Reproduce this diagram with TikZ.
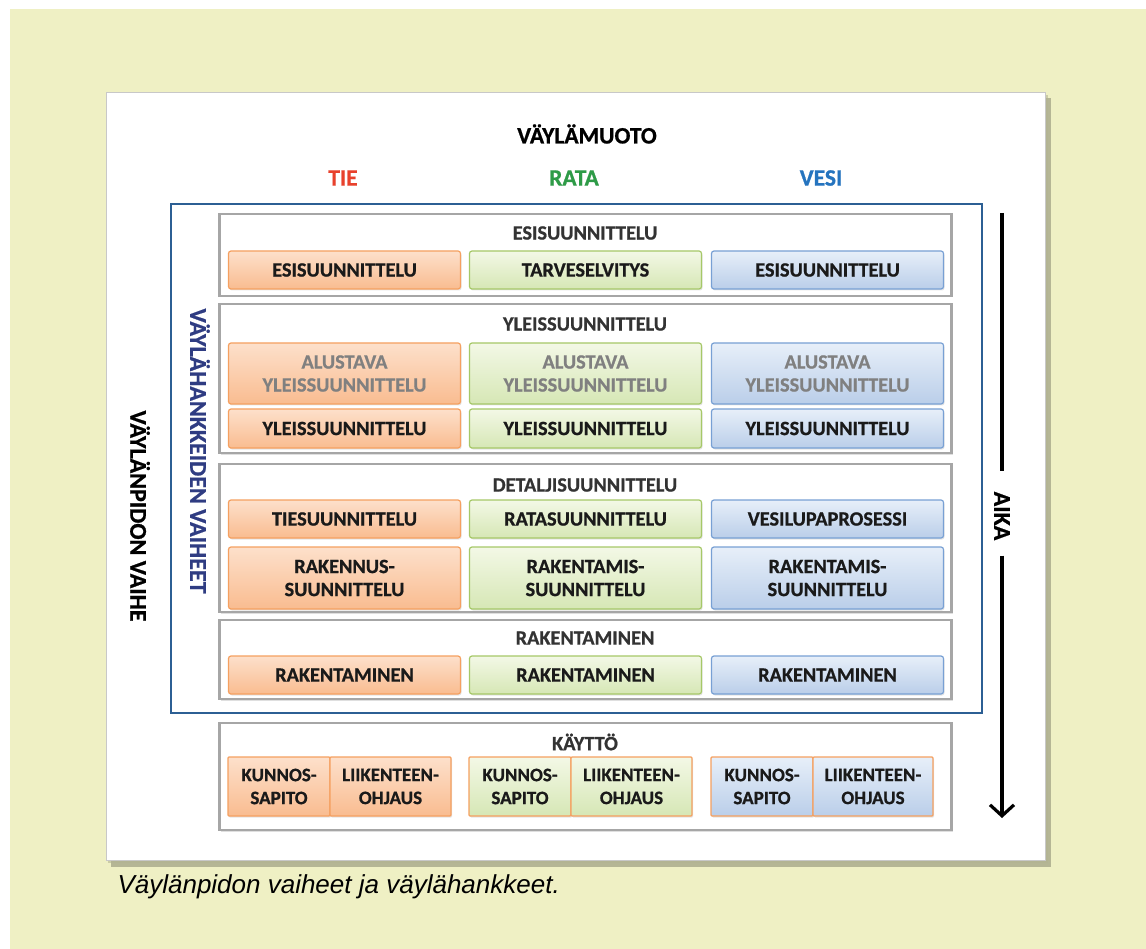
\documentclass[tikz,border=0pt]{standalone}
\usepackage{fontspec}
\setmainfont{Carlito}[BoldFeatures={FakeBold=0.8}]
\newfontfamily\capfont{Liberation Sans}
\usepackage{xcolor}
\definecolor{bgbeige}{RGB}{239, 240, 196}
\definecolor{panelline}{RGB}{200, 200, 200}
\definecolor{tiered}{RGB}{232, 65, 44}
\definecolor{ratagreen}{RGB}{46, 155, 71}
\definecolor{vesiblue}{RGB}{37, 116, 191}
\definecolor{frameblue}{RGB}{44, 95, 148}
\definecolor{navytext}{RGB}{47, 60, 130}
\definecolor{tietop}{RGB}{253, 224, 203}
\definecolor{tiebot}{RGB}{249, 188, 144}
\definecolor{tieline}{RGB}{245, 160, 96}
\definecolor{ratatop}{RGB}{243, 248, 230}
\definecolor{ratabot}{RGB}{214, 231, 181}
\definecolor{rataline}{RGB}{166, 200, 104}
\definecolor{vesitop}{RGB}{231, 239, 249}
\definecolor{vesibot}{RGB}{186, 206, 233}
\definecolor{vesiline}{RGB}{120, 160, 212}
\definecolor{sectgray}{RGB}{166, 166, 166}
\definecolor{boxtext}{RGB}{26, 26, 26}
\usetikzlibrary{
  arrows.meta,
  positioning,
  shadows,
  calc
}
\tikzset{
  phasebox/.style={draw, line width=1.2pt, rounded corners=2.5pt, align=center,
    inner sep=0pt, outer sep=0pt, text=boxtext, minimum width=232pt,
    font=\fontsize{20.3}{23}\selectfont\bfseries,
    drop shadow={shadow xshift=1pt, shadow yshift=-1.5pt, opacity=0.2}},
  tiebox/.style={phasebox, draw=tieline, top color=tietop, bottom color=tiebot},
  ratabox/.style={phasebox, draw=rataline, top color=ratatop, bottom color=ratabot},
  vesibox/.style={phasebox, draw=vesiline, top color=vesitop, bottom color=vesibot},
  prelim/.style={text=black!50},
  usebox/.style={phasebox, draw=tieline, rounded corners=1pt, minimum height=59pt,
    font=\fontsize{19}{23}\selectfont\bfseries},
  sectbox/.style={draw=sectgray, line width=2.5pt, fill=white, minimum width=732pt,
    drop shadow={shadow xshift=1.5pt, shadow yshift=-1.5pt, opacity=0.25}},
  secttitle/.style={font=\fontsize{20.3}{22}\selectfont\bfseries, text=black!80},
  headtitle/.style={font=\fontsize{23.5}{26}\selectfont\bfseries},
  sidetitle/.style={font=\fontsize{24}{26}\selectfont\bfseries, rotate=-90}
}

\begin{document}
\begin{tikzpicture}[x=1pt, y=-1pt]
  \useasboundingbox (0, 0) rectangle (1146, 949);
  \fill[white] (0, 0) rectangle (1146, 949);
  \fill[bgbeige] (10, 9) rectangle (1146, 949);

  % white panel with shadow
  \fill[black!40!bgbeige, opacity=0.6] (111, 98) rectangle (1051, 867);
  \fill[black!25!bgbeige, opacity=0.6] (108, 95) rectangle (1048, 863);
  \draw[panelline, fill=white] (106, 92) rectangle (1045, 860);

  % headings
  \node[headtitle] (mode) at (587, 134) {VÄYLÄMUOTO};
  \node[headtitle, text=tiered] (tie) at (343, 178) {TIE};
  \node[headtitle, text=ratagreen] (rata) at (574, 178) {RATA};
  \node[headtitle, text=vesiblue] (vesi) at (821, 178) {VESI};

  % project phases frame
  \draw[frameblue, line width=2.3pt] (171, 204) rectangle (982, 713);
  \node[sidetitle, text=navytext] (hanke) at (200, 451) {VÄYLÄHANKKEIDEN VAIHEET};
  \node[sidetitle] (pito) at (140, 516) {VÄYLÄNPIDON VAIHE};

  % section boxes
  \node[sectbox, minimum height=82pt] (s1) at (585.5, 255) {};
  \node[sectbox, minimum height=149pt] (s2) at (585.5, 378.5) {};
  \node[sectbox, minimum height=148pt] (s3) at (585.5, 538) {};
  \node[sectbox, minimum height=79pt] (s4) at (585.5, 659.5) {};
  \node[sectbox, minimum height=107pt] (s5) at (585.5, 776.5) {};

  \node[secttitle] (t1) at (585, 233) {ESISUUNNITTELU};
  \node[secttitle] (t2) at (585, 324) {YLEISSUUNNITTELU};
  \node[secttitle] (t3) at (585, 485) {DETALJISUUNNITTELU};
  \node[secttitle] (t4) at (585, 638) {RAKENTAMINEN};
  \node[secttitle] (t5) at (585, 742) {KÄYTTÖ};

  % esisuunnittelu
  \node[tiebox, minimum height=38pt] (tie1) at (344.5, 270) {ESISUUNNITTELU};
  \node[ratabox, minimum height=38pt] (rata1) at (585.5, 270) {TARVESELVITYS};
  \node[vesibox, minimum height=38pt] (vesi1) at (827.5, 270) {ESISUUNNITTELU};

  % yleissuunnittelu
  \node[tiebox, prelim, minimum height=61pt] (tie2) at (344.5, 373.5) {ALUSTAVA\\YLEISSUUNNITTELU};
  \node[ratabox, prelim, minimum height=61pt] (rata2) at (585.5, 373.5) {ALUSTAVA\\YLEISSUUNNITTELU};
  \node[vesibox, prelim, minimum height=61pt] (vesi2) at (827.5, 373.5) {ALUSTAVA\\YLEISSUUNNITTELU};
  \node[tiebox, minimum height=39pt] (tie3) at (344.5, 428.5) {YLEISSUUNNITTELU};
  \node[ratabox, minimum height=39pt] (rata3) at (585.5, 428.5) {YLEISSUUNNITTELU};
  \node[vesibox, minimum height=39pt] (vesi3) at (827.5, 428.5) {YLEISSUUNNITTELU};

  % detaljisuunnittelu
  \node[tiebox, minimum height=38pt] (tie4) at (344.5, 519) {TIESUUNNITTELU};
  \node[ratabox, minimum height=38pt] (rata4) at (585.5, 519) {RATASUUNNITTELU};
  \node[vesibox, minimum height=38pt] (vesi4) at (827.5, 519) {VESILUPAPROSESSI};
  \node[tiebox, minimum height=62pt] (tie5) at (344.5, 578) {RAKENNUS-\\SUUNNITTELU};
  \node[ratabox, minimum height=62pt] (rata5) at (585.5, 578) {RAKENTAMIS-\\SUUNNITTELU};
  \node[vesibox, minimum height=62pt] (vesi5) at (827.5, 578) {RAKENTAMIS-\\SUUNNITTELU};

  % rakentaminen
  \node[tiebox, minimum height=38pt] (tie6) at (344.5, 675) {RAKENTAMINEN};
  \node[ratabox, minimum height=38pt] (rata6) at (585.5, 675) {RAKENTAMINEN};
  \node[vesibox, minimum height=38pt] (vesi6) at (827.5, 675) {RAKENTAMINEN};

  % kaytto, pairs side by side
  \node[usebox, top color=tietop, bottom color=tiebot, minimum width=102pt] (tiek1) at (279, 786.5) {KUNNOS-\\SAPITO};
  \node[usebox, top color=tietop, bottom color=tiebot, minimum width=121pt, right=0pt of tiek1] (tiek2) {LIIKENTEEN-\\OHJAUS};
  \node[usebox, top color=ratatop, bottom color=ratabot, minimum width=102pt] (ratak1) at (520, 786.5) {KUNNOS-\\SAPITO};
  \node[usebox, top color=ratatop, bottom color=ratabot, minimum width=121pt, right=0pt of ratak1] (ratak2) {LIIKENTEEN-\\OHJAUS};
  \node[usebox, top color=vesitop, bottom color=vesibot, minimum width=102pt] (vesik1) at (762, 786.5) {KUNNOS-\\SAPITO};
  \node[usebox, top color=vesitop, bottom color=vesibot, minimum width=120pt, right=0pt of vesik1] (vesik2) {LIIKENTEEN-\\OHJAUS};

  % time arrow
  \coordinate (aikatop) at (1002, 213);
  \coordinate (aikabot) at (1002, 818);
  \node[sidetitle, inner sep=0pt] (aika) at (1002, 516) {AIKA};
  \draw[line width=3.2pt, shorten >=20pt] (aikatop) -- (aika.west);
  \draw[line width=3.2pt, shorten <=15pt, -{Straight Barb[length=11pt, width=24pt]}] (aika.east) -- (aikabot);

  % caption
  \node[anchor=base west, font=\capfont\itshape\fontsize{26}{29}\selectfont] (caption) at (114, 893) {Väylänpidon vaiheet ja väylähankkeet.};
\end{tikzpicture}
\end{document}
